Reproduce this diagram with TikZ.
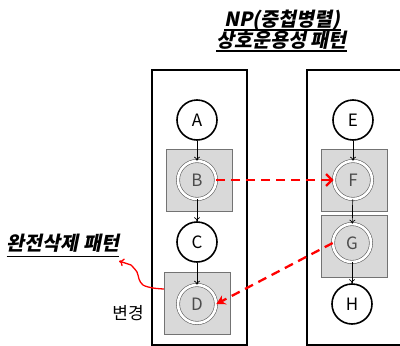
\documentclass[tikz,border=0pt]{standalone}
\usepackage{fontspec}
\setmainfont{Noto Sans CJK KR}
\newfontfamily\krbi[FakeSlant=0.2]{Noto Sans CJK KR}
\usetikzlibrary{arrows.meta}
\begin{document}
\begin{tikzpicture}[x=1pt,y=-1pt,
  panel/.style={draw=black,line width=1.8pt},
  plain/.style={circle,draw=black,line width=1.6pt,fill=white,minimum size=40pt,inner sep=0pt,font=\fontsize{17}{17}\selectfont},
  boxbg/.style={draw=gray!90!black,fill=gray!30,line width=0.8pt,minimum width=66pt,minimum height=62pt,inner sep=0pt},
  dbl/.style={circle,draw=gray!75!black,line width=0.6pt,double=white,double distance=2.6pt,fill=gray!30,minimum size=38pt,inner sep=0pt,text=black!70,font=\fontsize{17}{17}\selectfont},
  flow/.style={-{To[length=4pt,width=6pt]},line width=0.7pt,draw=black},
  reddash/.style={draw=red,line width=2.3pt,dash pattern=on 9pt off 6pt},
  titletext/.style={anchor=base,inner xsep=0pt,font=\krbi\bfseries\fontsize{19.5}{19.5}\selectfont},
  uline/.style={line width=1.1pt}
]
\useasboundingbox (0,0) rectangle (400,346);
\clip (0,0) rectangle (400,346);

% panels
\draw[panel] (152,70) rectangle (247,345);
\draw[panel] (307,70) rectangle (410,345);

% gray boxes
\node[boxbg] (Bbox) at (199.5,180) {};
\node[boxbg] (Dbox) at (197.5,303.5) {};
\node[boxbg] (Fbox) at (354,180) {};
\node[boxbg] (Gbox) at (354,246.5) {};

% nodes
\node[plain] (A) at (197,120) {A};
\node[dbl]   (B) at (197,180) {B};
\node[plain] (C) at (197,242) {C};
\node[dbl]   (D) at (197,304) {D};
\node[plain] (E) at (353,120) {E};
\node[dbl]   (F) at (353,180) {F};
\node[dbl]   (G) at (352,243) {G};
\node[plain] (H) at (352,304) {H};

% flow arrows
\draw[flow] (A) -- (B);
\draw[flow] (B) -- (C);
\draw[flow] (C) -- (D);
\draw[flow] (E) -- (F);
\draw[flow] (F) -- (G);
\draw[flow] (G) -- (H);

% red dashed arrows
\draw[reddash,-{Straight Barb[length=6pt,width=12pt,line width=2.3pt]}] (B.east) -- (F.west);
\draw[reddash,-{Stealth[length=9pt,width=10pt]}] (G.west) -- (D.east);

% red curved arrow
\coordinate (curveend) at (119,261);
\draw[red,line width=1.3pt,-{To[length=5pt,width=8pt]}]
  plot[smooth,tension=0.6] coordinates {(164,289) (153,288) (143,285) (139,279) (137,272) (131,265)} -- (curveend);

% texts
\node[titletext] (t1) at (282.5,26) {NP(중첩병렬)};
\node[titletext] (t2) at (281.5,47) {상호운용성 패턴};
\node[titletext] (t3) at (63,250.5) {완전삭제 패턴};
\node[anchor=base,font=\fontsize{17}{17}\selectfont] (t4) at (128,319) {변경};

\draw[uline] ([yshift=-4pt]t1.base west) -- ([yshift=-4pt]t1.base east);
\draw[uline] ([yshift=-4pt]t2.base west) -- ([yshift=-4pt]t2.base east);
\draw[uline] ([yshift=-6pt]t3.base west) -- ([yshift=-6pt]t3.base east);
\end{tikzpicture}
\end{document}
